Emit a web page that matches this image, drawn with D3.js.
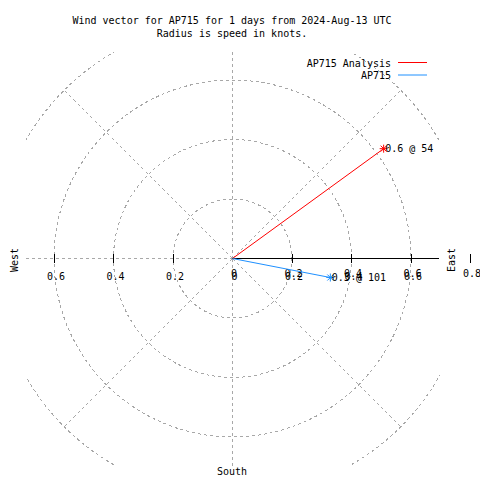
<!DOCTYPE html>
<html>
<head>
<meta charset="utf-8">
<script src="https://cdn.jsdelivr.net/npm/d3@7"></script>
<style>
html,body{margin:0;padding:0;background:#fff;}
svg{display:block;}
text{font-family:"DejaVu Sans Mono",monospace;font-size:10px;fill:#000;}
</style>
</head>
<body>
<svg id="chart" width="480" height="480"></svg>
<script>
// ---- data ----
const titleLines = ["Wind vector for AP715 for 1 days from 2024-Aug-13 UTC", "Radius is speed in knots."];
const seriesNames = ["AP715 Analysis", "AP715"];
const seriesColors = ["#ff0000", "#1e90ff"];
const speeds = [0.628, 0.335];        // knots
const directions = [54, 101];         // degrees clockwise from north
const ringValues = [0.2, 0.4, 0.6, 0.8];
const spokeAngles = [0, 45, 90, 135, 180, 225, 270, 315];
const rTickValues = [0, 0.2, 0.4, 0.6, 0.8];
const xTickValues = [-0.6, -0.4, -0.2, 0, 0.2, 0.4, 0.6];
const compassLabels = ["East", "West", "South"];

// ---- layout ----
const svg = d3.select("#chart");
const cx = 232, cy = 258;
const r = d3.scaleLinear().domain([0, 1]).range([0, 297.5]);
const xs = d3.scaleLinear().domain([-1, 1]).range([cx - 297.5, cx + 297.5]);
const clip = {x: 26, y: 52, w: 414, h: 414};
const gridColor = "#a8a8a8";

svg.append("defs").append("clipPath").attr("id", "plotclip")
  .append("rect").attr("x", clip.x).attr("y", clip.y).attr("width", clip.w).attr("height", clip.h);

// title
svg.selectAll("text.title").data(titleLines).enter().append("text")
  .attr("class", "title")
  .attr("x", 232).attr("y", (d, i) => 24 + i * 13)
  .attr("text-anchor", "middle").text(d => d);

// grid
const grid = svg.append("g").attr("clip-path", "url(#plotclip)")
  .attr("fill", "none").attr("stroke", gridColor).attr("stroke-width", 1)
  .attr("stroke-dasharray", "3,3").attr("shape-rendering", "crispEdges");
grid.selectAll("circle").data(ringValues).enter().append("circle")
  .attr("cx", cx + 0.5).attr("cy", cy + 0.5).attr("r", d => r(d));
const rmax = d3.max(ringValues);
grid.selectAll("line").data(spokeAngles.filter(a => a !== 90)).enter().append("line")
  .attr("x1", cx + 0.5).attr("y1", cy + 0.5)
  .attr("x2", a => cx + 0.5 + r(rmax) * Math.sin(a * Math.PI / 180))
  .attr("y2", a => cy + 0.5 - r(rmax) * Math.cos(a * Math.PI / 180));

// solid radial axis toward east
svg.append("line").attr("x1", cx).attr("y1", cy + 0.5).attr("x2", clip.x + clip.w - 1).attr("y2", cy + 0.5)
  .attr("stroke", "#000").attr("stroke-width", 1);

// ticks
const tickG = svg.append("g").attr("stroke", "#000").attr("stroke-width", 1);
tickG.selectAll("line.rt").data(rTickValues.filter(v => v > 0)).enter().append("line")
  .attr("class", "rt")
  .attr("x1", d => Math.round(cx + r(d)) + 0.5).attr("x2", d => Math.round(cx + r(d)) + 0.5)
  .attr("y1", cy - 4).attr("y2", cy + 5);
tickG.selectAll("line.xt").data(xTickValues.filter(v => v < 0)).enter().append("line")
  .attr("class", "xt")
  .attr("x1", d => Math.round(xs(d)) + 0.5).attr("x2", d => Math.round(xs(d)) + 0.5)
  .attr("y1", cy - 4).attr("y2", cy + 5);

// tick labels
svg.selectAll("text.xtl").data(xTickValues).enter().append("text")
  .attr("class", "xtl")
  .attr("x", d => xs(d) + 2.5).attr("y", 280)
  .attr("text-anchor", "middle").text(d => d === 0 ? "0" : Math.abs(d).toFixed(1));
svg.selectAll("text.rtl").data(rTickValues).enter().append("text")
  .attr("class", "rtl")
  .attr("x", d => cx + r(d) + 2).attr("y", 276.5)
  .attr("text-anchor", "middle").text(d => d === 0 ? "0" : d.toFixed(1));

// compass labels
svg.append("text").attr("transform", "translate(455,260) rotate(-90)").attr("text-anchor", "middle").text(compassLabels[0]);
svg.append("text").attr("transform", "translate(18,260) rotate(-90)").attr("text-anchor", "middle").text(compassLabels[1]);
svg.append("text").attr("x", cx).attr("y", 475).attr("text-anchor", "middle").text(compassLabels[2]);

// vectors
const vecData = seriesNames.map((name, i) => {
  const a = directions[i] * Math.PI / 180;
  return {name, color: seriesColors[i], speed: speeds[i], dir: directions[i],
    x: cx + 0.5 + r(speeds[i]) * Math.sin(a), y: cy + 0.5 - r(speeds[i]) * Math.cos(a)};
});
const vg = svg.append("g");
vg.selectAll("line.vec").data(vecData).enter().append("line")
  .attr("class", "vec")
  .attr("x1", cx + 0.5).attr("y1", cy + 0.5)
  .attr("x2", d => d.x).attr("y2", d => d.y)
  .attr("stroke", d => d.color).attr("stroke-width", 1);
const star = vg.selectAll("g.star").data(vecData).enter().append("g")
  .attr("class", "star")
  .attr("transform", d => `translate(${d.x},${d.y})`)
  .attr("stroke", d => d.color).attr("stroke-width", 1);
star.append("path").attr("d", "M-4,0H4M0,-4V4M-3,-3L3,3M-3,3L3,-3");
vg.selectAll("text.vl").data(vecData).enter().append("text")
  .attr("class", "vl")
  .attr("x", d => d.x + 1.5).attr("y", d => d.y + 3.5)
  .text(d => `${d.speed.toFixed(1)} @ ${d.dir}`);

// legend
const leg = svg.append("g");
seriesNames.forEach((name, i) => {
  const y = 62.5 + i * 12.5;
  leg.append("text").attr("x", 391).attr("y", y + 4).attr("text-anchor", "end").text(name);
  leg.append("line").attr("x1", 398).attr("x2", 427).attr("y1", y).attr("y2", y)
    .attr("stroke", seriesColors[i]).attr("stroke-width", 1);
});
</script>
</body>
</html>
